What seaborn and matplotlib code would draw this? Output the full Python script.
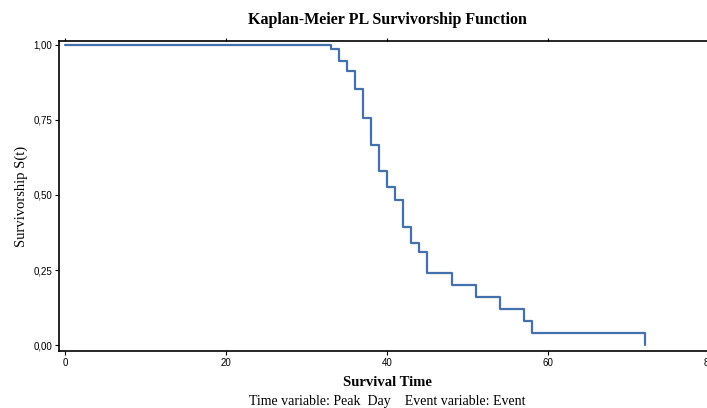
import matplotlib
matplotlib.use("Agg")
import matplotlib.pyplot as plt
import matplotlib.ticker as mticker
import seaborn as sns
import pandas as pd

# Kaplan-Meier step values
times = [0, 33, 34, 35, 36, 37, 38, 39, 40, 41, 42, 43, 44, 45, 48, 51, 54, 57, 58, 72]
survival = [1.0, 0.986, 0.948, 0.914, 0.854, 0.758, 0.667, 0.581, 0.528, 0.483,
            0.394, 0.341, 0.311, 0.241, 0.201, 0.161, 0.121, 0.081, 0.041, 0.0]
x_ticks = [0, 20, 40, 60, 80]
y_ticks = [0.0, 0.25, 0.5, 0.75, 1.0]

df = pd.DataFrame({'time': times, 'surv': survival})

sns.set_style("ticks")
plt.rcParams['font.family'] = ['Liberation Sans', 'DejaVu Sans']
plt.rcParams['text.color'] = 'black'
plt.rcParams['axes.labelcolor'] = 'black'
plt.rcParams['xtick.color'] = 'black'
plt.rcParams['ytick.color'] = 'black'

fig = plt.figure(figsize=(7.07, 4.08), dpi=100)
ax = fig.add_axes([0.0835, 0.1397, 0.922, 0.7598])

sns.lineplot(data=df, x='time', y='surv', drawstyle='steps-post',
             color='#4470AE', linewidth=1.6, ax=ax)

ax.set_xlim(-0.75, 80.2)
ax.set_ylim(-0.02, 1.0133)
ax.set_xticks(x_ticks)
ax.set_yticks(y_ticks)
ax.yaxis.set_major_formatter(mticker.FuncFormatter(lambda v, p: f'{v:.2f}'.replace('.', ',')))
ax.tick_params(axis='both', labelsize=7, length=3, width=0.8, color='black', pad=2)
ax.tick_params(axis='x', top=True)
for t in ax.xaxis.get_major_ticks():
    t.tick2line.set_markersize(2)
    t.tick2line.set_color('#777777')
    t.tick2line.set_marker(2)

ax.spines['right'].set_visible(False)
for s in ['left', 'bottom', 'top']:
    ax.spines[s].set_linewidth(1.2)
    ax.spines[s].set_color('black')

ax.set_xlabel('')
ax.set_ylabel('Survivorship S(t)', family='Liberation Serif', fontsize=10.5, labelpad=4)

fig.text(387 / 707, 1 - 20 / 408, 'Kaplan-Meier PL Survivorship Function',
         ha='center', va='center', family='Liberation Serif', fontweight='bold', fontsize=11.5)
fig.text(387 / 707, 1 - 382 / 408, 'Survival Time',
         ha='center', va='center', family='Liberation Serif', fontweight='bold', fontsize=10.5)
fig.text(387 / 707, 1 - 401 / 408, 'Time variable: Peak  Day    Event variable: Event',
         ha='center', va='center', family='Liberation Serif', fontsize=10)

fig.savefig('out.png', dpi=100)
